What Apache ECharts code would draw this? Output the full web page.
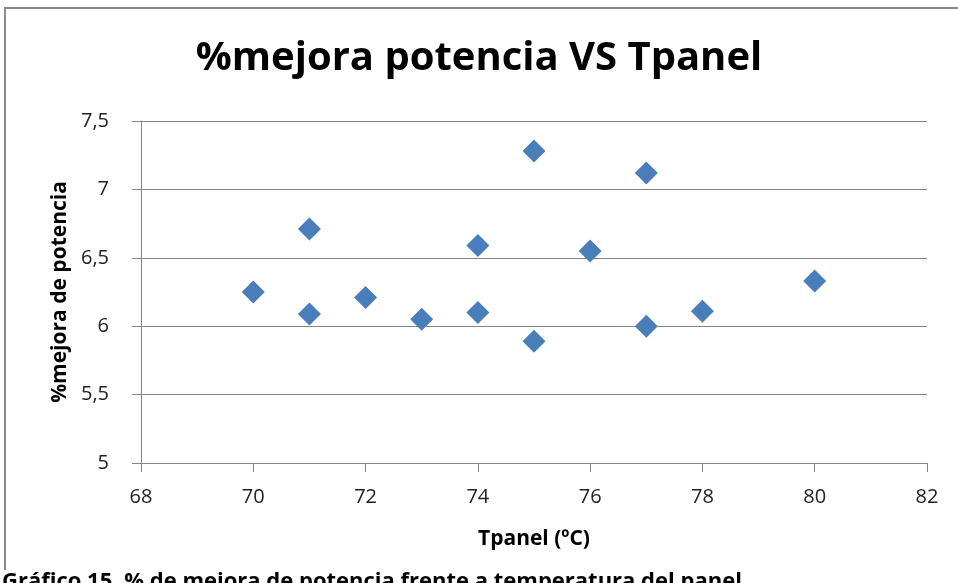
<!DOCTYPE html>
<html>
<head>
<meta charset="utf-8">
<script src="https://cdn.jsdelivr.net/npm/echarts@6/dist/echarts.min.js"></script>
<style>
  html, body { margin: 0; padding: 0; background: #fff; }
  #chart { width: 958px; height: 583px; }
</style>
</head>
<body>
<div id="chart"></div>
<script>
// Panel temperature (ºC) and power improvement (%) for each measurement
const tpanel = [70, 71, 71, 72, 73, 74, 74, 75, 75, 76, 77, 77, 78, 80];
const mejora = [6.25, 6.71, 6.09, 6.21, 6.05, 6.59, 6.10, 7.28, 5.89, 6.55, 7.12, 6.00, 6.11, 6.33];

const titleText = '%mejora potencia VS Tpanel';
const xName = 'Tpanel (ºC)';
const yName = '%mejora de potencia';
const caption = 'Gráfico 15. % de mejora de potencia frente a temperatura del panel';

const points = tpanel.map((t, i) => [t, mejora[i]]);
const fmt = v => String(v).replace('.', ',');
const font = '"Open Sans", "Noto Sans", sans-serif';

const chart = echarts.init(document.getElementById('chart'), null, { renderer: 'canvas' });
chart.setOption({
  animation: false,
  backgroundColor: '#ffffff',
  title: {
    text: titleText,
    left: 'center',
    top: 34,
    textStyle: { fontFamily: font, fontWeight: 'bold', fontSize: 40, color: '#000' }
  },
  grid: { left: 141, right: 31, top: 121, bottom: 120 },
  xAxis: {
    type: 'value',
    min: 68, max: 82, interval: 2,
    name: xName,
    nameLocation: 'middle',
    nameGap: 66,
    nameTextStyle: { fontFamily: font, fontWeight: 'bold', fontSize: 21, color: '#000' },
    axisLine: { show: true, lineStyle: { color: '#868686', width: 1 } },
    axisTick: { show: true, inside: false, length: 9, lineStyle: { color: '#868686' } },
    axisLabel: { fontFamily: font, fontSize: 20, color: '#222', margin: 24, formatter: fmt },
    splitLine: { show: false }
  },
  yAxis: {
    type: 'value',
    min: 5, max: 7.5, interval: 0.5,
    name: yName,
    nameLocation: 'middle',
    nameGap: 66,
    nameRotate: 90,
    nameTextStyle: { fontFamily: font, fontWeight: 'bold', fontSize: 21, color: '#000' },
    axisLine: { show: true, lineStyle: { color: '#868686', width: 1 } },
    axisTick: { show: true, inside: false, length: 9, lineStyle: { color: '#868686' } },
    axisLabel: { fontFamily: font, fontSize: 20, color: '#222', margin: 32, formatter: fmt },
    splitLine: { show: true, lineStyle: { color: '#868686', width: 1 } }
  },
  series: [{
    type: 'scatter',
    data: points,
    symbol: 'diamond',
    symbolSize: [23, 23],
    itemStyle: { color: '#4a7ebb', opacity: 1 }
  }],
  graphic: [
    {
      type: 'polyline',
      shape: { points: [[5, 570], [5, 8], [960, 8]] },
      style: { stroke: '#8a8a8a', lineWidth: 2, fill: null }
    },
    {
      type: 'text',
      left: 2, top: 571,
      style: { text: caption, font: 'bold 22px ' + font, fill: '#000' }
    }
  ]
});
</script>
</body>
</html>
